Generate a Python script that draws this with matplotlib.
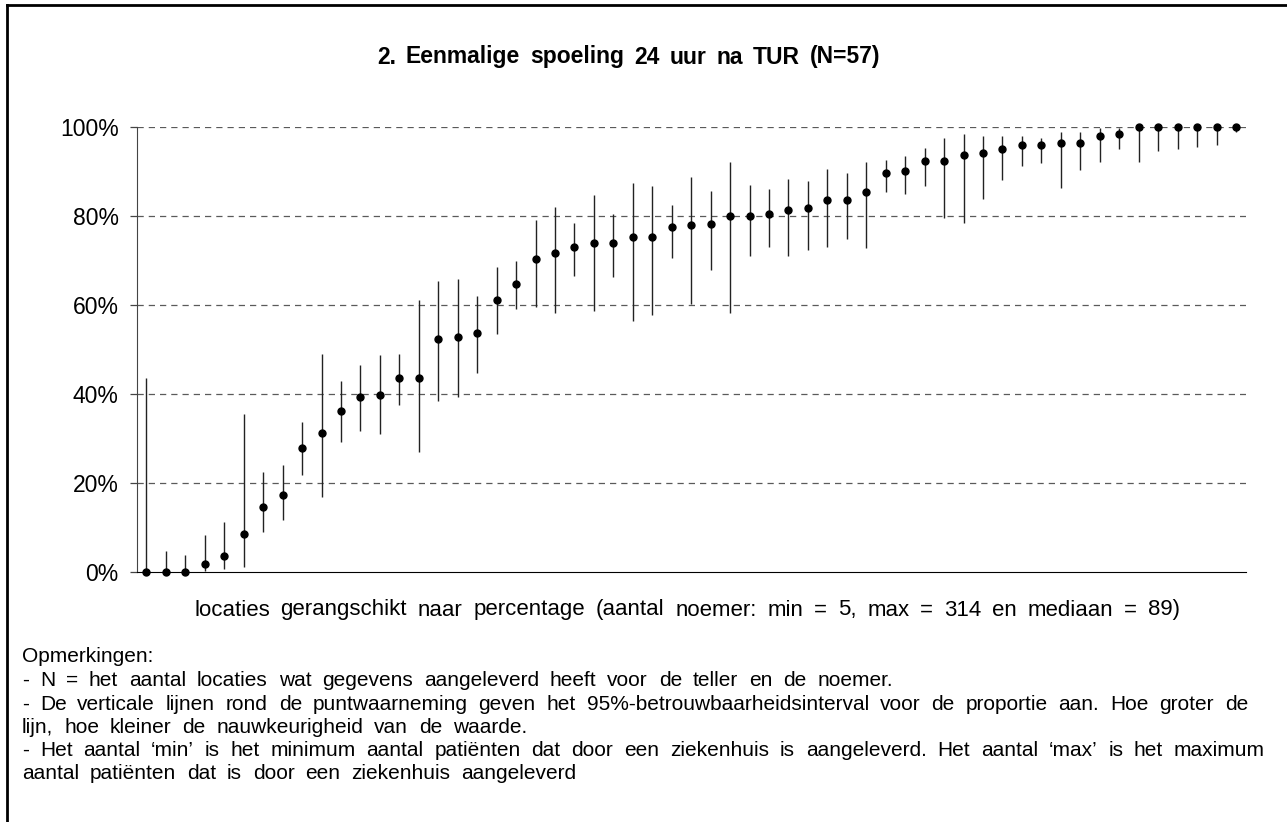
import numpy as np
import matplotlib.pyplot as plt
from matplotlib.lines import Line2D

plt.rcParams['font.family'] = ['Liberation Sans', 'DejaVu Sans']

# --- data (percentages, ranked) ---
pct = [0.0, 0.0, 0.0, 1.9, 3.7, 8.5, 14.7, 17.3, 27.8, 31.3,
       36.2, 39.3, 39.7, 43.6, 43.6, 52.4, 52.8, 53.7, 61.2, 64.7,
       70.4, 71.7, 73.0, 73.9, 73.9, 75.2, 75.2, 77.4, 77.9, 78.2,
       80.0, 80.0, 80.4, 81.3, 81.8, 83.5, 83.5, 85.3, 89.7, 90.1,
       92.3, 92.3, 93.6, 94.1, 94.9, 95.8, 95.8, 96.3, 96.3, 98.0,
       98.4, 100.0, 100.0, 100.0, 100.0, 100.0, 100.0]
ci_low = [0.0, 0.0, 0.0, 0.4, 0.7, 1.3, 9.1, 11.7, 21.8, 17.0,
          29.3, 31.6, 31.0, 37.5, 27.1, 38.4, 39.4, 44.7, 53.4, 59.1,
          59.6, 58.3, 66.6, 58.7, 66.2, 56.5, 57.8, 70.6, 60.1, 67.9,
          58.3, 71.0, 73.1, 71.0, 72.3, 73.1, 74.9, 72.7, 85.4, 85.0,
          86.8, 79.4, 78.5, 83.7, 88.0, 91.2, 91.9, 86.3, 90.3, 92.0,
          95.0, 92.0, 94.6, 95.0, 95.5, 95.9, 98.7]
ci_high = [43.5, 4.8, 3.9, 8.4, 11.4, 35.5, 22.4, 24.1, 33.8, 49.1,
           43.0, 46.5, 48.8, 49.1, 61.0, 65.4, 65.8, 61.9, 68.5, 69.8,
           79.1, 82.0, 78.5, 84.7, 80.3, 87.4, 86.8, 82.5, 88.6, 85.6,
           92.1, 86.9, 86.0, 88.2, 87.8, 90.4, 89.5, 92.1, 92.5, 93.5,
           95.2, 97.4, 98.3, 97.9, 97.9, 97.9, 97.4, 98.7, 98.7, 99.6,
           99.7, 100.0, 100.0, 100.0, 100.0, 100.0, 100.0]
yticks = [0, 20, 40, 60, 80, 100]
ytick_labels = ["0%", "20%", "40%", "60%", "80%", "100%"]

title = "2. Eenmalige spoeling 24 uur na TUR (N=57)"
xlabel = "locaties gerangschikt naar percentage (aantal noemer: min = 5, max = 314 en mediaan = 89)"
notes = [
    "Opmerkingen:",
    "- N = het aantal locaties wat gegevens aangeleverd heeft voor de teller en de noemer.",
    "- De verticale lijnen rond de puntwaarneming geven het 95%-betrouwbaarheidsinterval voor de proportie aan. Hoe groter de",
    "lijn, hoe kleiner de nauwkeurigheid van de waarde.",
    "- Het aantal \u2018min\u2019 is het minimum aantal pati\u00ebnten dat door een ziekenhuis is aangeleverd. Het aantal \u2018max\u2019 is het maximum",
    "aantal pati\u00ebnten dat is door een ziekenhuis aangeleverd",
]

W, H = 1287, 822
fig = plt.figure(figsize=(W / 100, H / 100), dpi=100)
renderer = fig.canvas.get_renderer()


def text_width(s, **kw):
    t = fig.text(0, 0, s, **kw)
    w = t.get_window_extent(renderer).width
    t.remove()
    return w


def word_layout(s, **kw):
    words = s.split(" ")
    space = text_width("a a", **kw) - text_width("aa", **kw)
    offs = [text_width(" ".join(words[:i]), **kw) + space if i else 0.0
            for i in range(len(words))]
    return words, offs, text_width(words[-1], **kw)


def gap_for(s, x0, x1, **kw):
    # extra word gap (px) so the line runs from x0 to x1
    words, offs, wlast = word_layout(s, **kw)
    return (x1 - x0 - offs[-1] - wlast) / (len(words) - 1)


def spaced_text(s, x0, y, gap, **kw):
    # the source draws its words with wider gaps than the font's own space
    words, offs, _ = word_layout(s, **kw)
    for i, (w, o) in enumerate(zip(words, offs)):
        fig.text((x0 + o + i * gap) / W, 1 - y / H, w, ha="left", va="center", **kw)


ax = fig.add_axes([136.7 / W, 1 - 572.3 / H, 1109 / W, 445.6 / H])

x = np.arange(len(pct))
ax.vlines(x, ci_low, ci_high, colors="#222222", linewidth=1.0, zorder=2)
ax.plot(x, pct, "o", color="black", markersize=5, zorder=3, clip_on=False)

ax.set_xlim(-0.5, len(pct) - 0.5)
ax.set_ylim(0, 100)
ax.set_yticks(yticks)
ax.set_yticklabels(ytick_labels, fontsize=16.5)
ax.set_xticks([])
for y in yticks[1:]:
    ax.axhline(y, color="#5a5a5a", linestyle=(0, (5, 4)), linewidth=0.9, zorder=1)

for s in ["top", "right"]:
    ax.spines[s].set_visible(False)
ax.spines["left"].set_color("#444444")
ax.spines["bottom"].set_color("black")
ax.tick_params(axis="y", direction="out", length=5, width=0.9, color="#444444", pad=8)

tkw = dict(fontsize=16.5, fontweight="bold")
spaced_text(title, 377, 57, gap_for(title, 377, 880, **tkw), **tkw)

xkw = dict(fontsize=16)
spaced_text(xlabel, 194, 610, gap_for(xlabel, 194, 1180, **xkw), **xkw)

nkw = dict(fontsize=15)
gap_notes = gap_for(notes[2], 22, 1248, **nkw)
line_y = [656, 680, 704, 727, 750, 773]
for yy, t in zip(line_y, notes):
    spaced_text(t, 22, yy, gap_notes, **nkw)

# frame: only the top and left edges are visible in the reference
fig.add_artist(Line2D([7 / W, 1.0], [1 - 5 / H, 1 - 5 / H], color="black", linewidth=2, transform=fig.transFigure))
fig.add_artist(Line2D([7 / W, 7 / W], [0.0, 1 - 5 / H], color="black", linewidth=2, transform=fig.transFigure))

fig.savefig("out.png", dpi=100)
